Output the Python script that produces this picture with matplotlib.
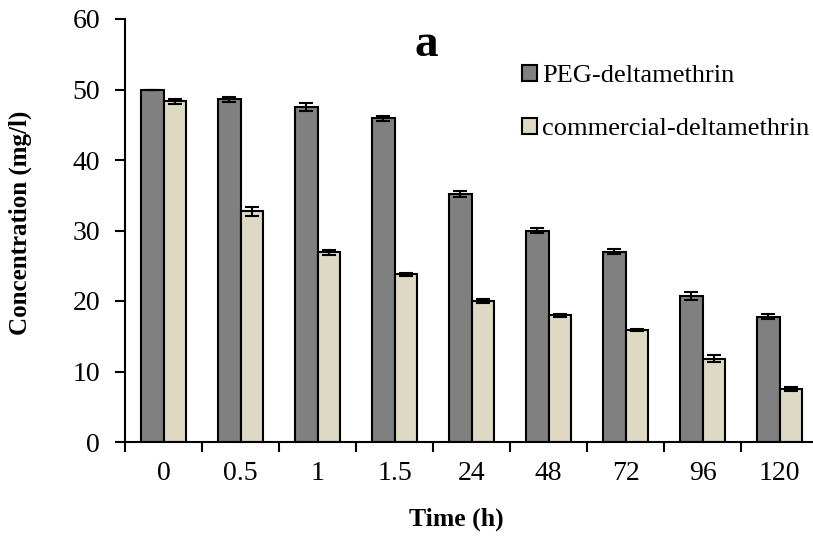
import numpy as np
import matplotlib.pyplot as plt

plt.rcParams['font.family'] = ['Liberation Serif', 'DejaVu Serif']

# data
times = ["0", "0.5", "1", "1.5", "24", "48", "72", "96", "120"]
peg = [50.0, 48.6, 47.5, 45.9, 35.2, 30.0, 27.0, 20.7, 17.8]
peg_err = [0.0, 0.4, 0.6, 0.3, 0.4, 0.4, 0.4, 0.6, 0.3]
commercial = [48.3, 32.7, 26.9, 23.8, 20.0, 18.0, 15.9, 11.8, 7.5]
commercial_err = [0.4, 0.6, 0.4, 0.2, 0.3, 0.2, 0.1, 0.5, 0.3]

fig = plt.figure(figsize=(8.13, 5.4), dpi=100)
ax = fig.add_axes([125/813, 98/540, 693/813, 423/540])

x = np.arange(len(times))
w = 0.292
err_kw = dict(ecolor='black', elinewidth=1.5, capsize=5, capthick=1.5)
ax.bar(x - w/2, peg, w, yerr=peg_err, color='#808080', edgecolor='black',
       linewidth=1.5, error_kw=err_kw, label='PEG-deltamethrin')
ax.bar(x + w/2, commercial, w, yerr=commercial_err, color='#DDD9C3', edgecolor='black',
       linewidth=1.5, error_kw=err_kw, label='commercial-deltamethrin')

ax.set_xlim(-0.5, len(times) - 0.5)
ax.set_ylim(0, 60)
ax.set_yticks(range(0, 61, 10))
ax.set_xticks(x)
ax.set_xticklabels(times)
ax.set_xticks(np.arange(-0.5, len(times), 1), minor=True)
ax.tick_params(axis='x', which='major', length=0, pad=14, labelsize=20)
ax.tick_params(axis='x', which='minor', length=7, width=1.5, direction='out')
ax.tick_params(axis='y', length=7, width=1.5, labelsize=20, pad=11)

for s in ['top', 'right']:
    ax.spines[s].set_visible(False)
for s in ['left', 'bottom']:
    ax.spines[s].set_linewidth(1.5)

# axis titles
fig.text(20/813, 1 - 223/540, "Concentration (mg/l)", fontsize=18, fontweight='bold',
         rotation=90, ha='center', va='center')
fig.text(456/813, 1 - 519/540, "Time (h)", fontsize=18.5, fontweight='bold',
         ha='center', va='center')

fig.text(426/813, 1 - 45/540, "a", fontsize=34, fontweight='bold', ha='center', va='center')

fig.legend(loc='upper left', bbox_to_anchor=(522/813, 1 - 65/540), frameon=False,
           fontsize=19, handlelength=0.57, handleheight=0.57, handletextpad=0.2,
           labelspacing=1.15, borderaxespad=0, borderpad=0)

fig.savefig("out.png", dpi=100)
